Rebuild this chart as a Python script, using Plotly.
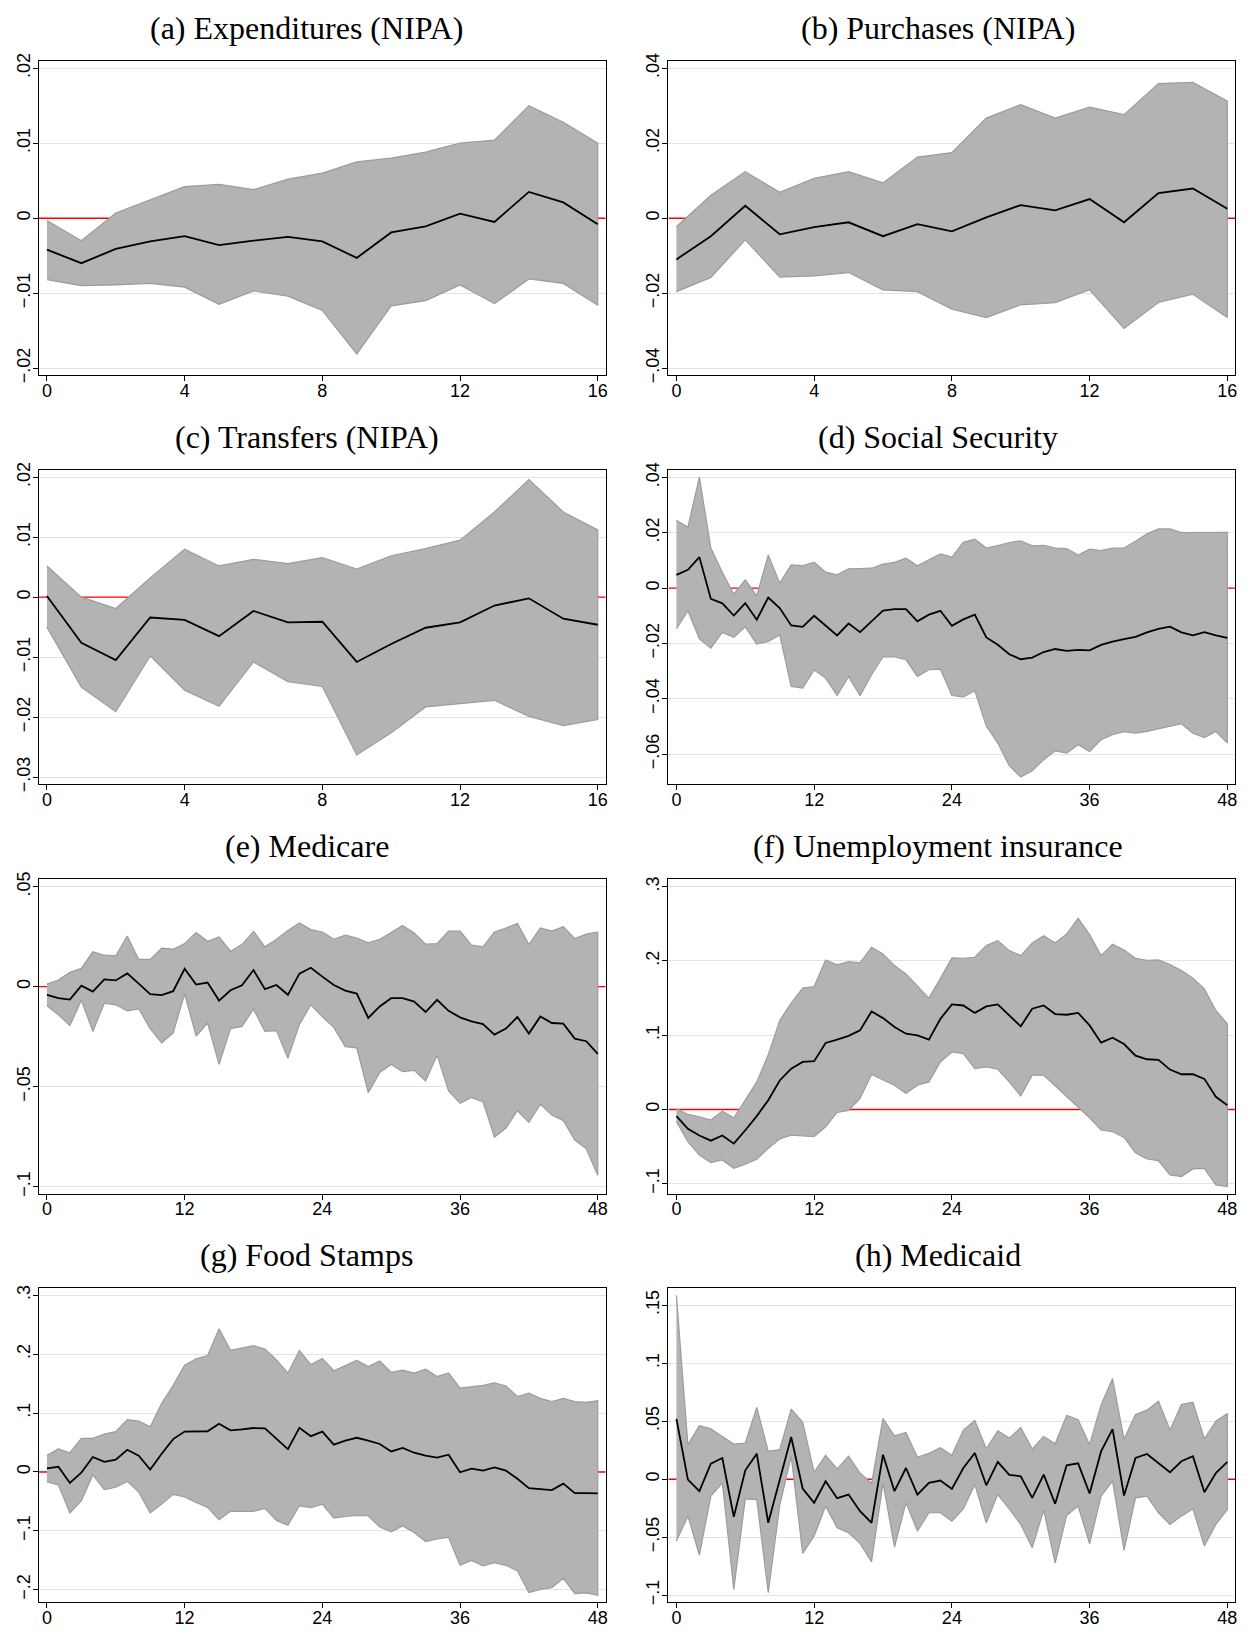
import plotly.graph_objects as go

# Horizons (quarters for NIPA aggregates, months for program series)
H16 = list(range(17))
H48 = list(range(49))

# (a) Expenditures (NIPA)
exp_irf = [-0.0042, -0.0060, -0.0041, -0.0031, -0.0024, -0.0036, -0.0030, -0.0025, -0.0031,
           -0.0053, -0.0019, -0.0011, 0.0006, -0.0005, 0.0035, 0.0021, -0.0008]
exp_hi = [-0.0003, -0.0030, 0.0007, 0.0025, 0.0042, 0.0045, 0.0038, 0.0052, 0.0060,
          0.0075, 0.0080, 0.0088, 0.0100, 0.0104, 0.0150, 0.0128, 0.0100]
exp_lo = [-0.0082, -0.0090, -0.0089, -0.0087, -0.0092, -0.0115, -0.0097, -0.0104, -0.0123,
          -0.0181, -0.0117, -0.0110, -0.0089, -0.0114, -0.0081, -0.0087, -0.0116]

# (b) Purchases (NIPA)
pur_irf = [-0.0110, -0.0048, 0.0033, -0.0043, -0.0024, -0.0011, -0.0048, -0.0016, -0.0035,
           0.0002, 0.0035, 0.0021, 0.0051, -0.0011, 0.0067, 0.0079, 0.0025]
pur_hi = [-0.0023, 0.0061, 0.0124, 0.0069, 0.0106, 0.0124, 0.0094, 0.0163, 0.0175,
          0.0267, 0.0303, 0.0267, 0.0296, 0.0276, 0.0359, 0.0362, 0.0312]
pur_lo = [-0.0196, -0.0158, -0.0058, -0.0157, -0.0154, -0.0145, -0.0191, -0.0196, -0.0243,
          -0.0265, -0.0231, -0.0225, -0.0191, -0.0294, -0.0225, -0.0203, -0.0265]

# (c) Transfers (NIPA)
tra_irf = [0.0002, -0.0076, -0.0105, -0.0034, -0.0038, -0.0065, -0.0023, -0.0042, -0.0041,
           -0.0108, -0.0078, -0.0051, -0.0042, -0.0014, -0.0002, -0.0036, -0.0046]
tra_hi = [0.0052, 0.0000, -0.0019, 0.0032, 0.0080, 0.0052, 0.0063, 0.0056, 0.0066,
          0.0047, 0.0069, 0.0081, 0.0095, 0.0142, 0.0196, 0.0142, 0.0112]
tra_lo = [-0.0050, -0.0150, -0.0191, -0.0098, -0.0155, -0.0182, -0.0108, -0.0141, -0.0149,
          -0.0263, -0.0226, -0.0183, -0.0178, -0.0172, -0.0199, -0.0214, -0.0204]

# (d) Social Security
ss_irf = [0.0048, 0.0066, 0.0112, -0.0039, -0.0055, -0.0099, -0.0054, -0.0114, -0.0034, -0.0072,
          -0.0135, -0.0140, -0.0100, -0.0136, -0.0171, -0.0128, -0.0159, -0.0120, -0.0081, -0.0076,
          -0.0076, -0.0120, -0.0096, -0.0082, -0.0136, -0.0113, -0.0096, -0.0178, -0.0205, -0.0239,
          -0.0257, -0.0251, -0.0231, -0.0220, -0.0227, -0.0223, -0.0225, -0.0205, -0.0193, -0.0184,
          -0.0176, -0.0160, -0.0147, -0.0139, -0.0160, -0.0171, -0.0159, -0.0171, -0.0180]
ss_hi = [0.0245, 0.0220, 0.0401, 0.0145, 0.0057, -0.0022, 0.0030, -0.0028, 0.0120, 0.0018,
         0.0084, 0.0081, 0.0094, 0.0058, 0.0048, 0.0070, 0.0071, 0.0072, 0.0087, 0.0093,
         0.0108, 0.0081, 0.0102, 0.0124, 0.0112, 0.0166, 0.0177, 0.0145, 0.0154, 0.0165,
         0.0171, 0.0153, 0.0155, 0.0145, 0.0143, 0.0120, 0.0141, 0.0136, 0.0145, 0.0145,
         0.0169, 0.0196, 0.0214, 0.0214, 0.0201, 0.0201, 0.0201, 0.0200, 0.0202]
ss_lo = [-0.0147, -0.0082, -0.0183, -0.0217, -0.0160, -0.0178, -0.0140, -0.0202, -0.0193, -0.0169,
         -0.0355, -0.0361, -0.0296, -0.0325, -0.0388, -0.0320, -0.0389, -0.0313, -0.0248, -0.0249,
         -0.0259, -0.0319, -0.0295, -0.0293, -0.0388, -0.0393, -0.0371, -0.0498, -0.0560, -0.0642,
         -0.0683, -0.0660, -0.0620, -0.0588, -0.0596, -0.0566, -0.0590, -0.0548, -0.0530, -0.0519,
         -0.0524, -0.0518, -0.0510, -0.0500, -0.0490, -0.0524, -0.0540, -0.0518, -0.0560]

# (e) Medicare
mcr_irf = [-0.0041, -0.0058, -0.0065, 0.0005, -0.0025, 0.0036, 0.0031, 0.0066, 0.0015, -0.0038,
           -0.0043, -0.0023, 0.0089, 0.0010, 0.0020, -0.0070, -0.0018, 0.0007, 0.0083, -0.0013,
           0.0008, -0.0041, 0.0065, 0.0094, 0.0050, 0.0008, -0.0020, -0.0035, -0.0157, -0.0099,
           -0.0058, -0.0058, -0.0075, -0.0127, -0.0066, -0.0121, -0.0154, -0.0174, -0.0187, -0.0240,
           -0.0210, -0.0152, -0.0235, -0.0149, -0.0182, -0.0185, -0.0260, -0.0273, -0.0336]
mcr_hi = [0.0013, 0.0033, 0.0071, 0.0091, 0.0174, 0.0157, 0.0154, 0.0253, 0.0136, 0.0136,
          0.0192, 0.0187, 0.0215, 0.0270, 0.0227, 0.0248, 0.0177, 0.0210, 0.0276, 0.0199,
          0.0237, 0.0281, 0.0318, 0.0285, 0.0273, 0.0237, 0.0258, 0.0243, 0.0219, 0.0237,
          0.0270, 0.0306, 0.0268, 0.0212, 0.0215, 0.0278, 0.0278, 0.0207, 0.0199, 0.0273,
          0.0293, 0.0315, 0.0210, 0.0293, 0.0278, 0.0300, 0.0240, 0.0263, 0.0273]
mcr_lo = [-0.0096, -0.0141, -0.0195, -0.0068, -0.0224, -0.0083, -0.0091, -0.0121, -0.0111, -0.0210,
          -0.0281, -0.0232, -0.0036, -0.0248, -0.0182, -0.0389, -0.0210, -0.0199, -0.0113, -0.0224,
          -0.0220, -0.0359, -0.0190, -0.0091, -0.0151, -0.0204, -0.0300, -0.0306, -0.0530, -0.0430,
          -0.0389, -0.0425, -0.0419, -0.0472, -0.0343, -0.0522, -0.0584, -0.0555, -0.0576, -0.0753,
          -0.0707, -0.0621, -0.0679, -0.0588, -0.0642, -0.0671, -0.0767, -0.0811, -0.0944]

# (f) Unemployment insurance
ui_irf = [-0.0090, -0.0260, -0.0350, -0.0420, -0.0350, -0.0460, -0.0280, -0.0090, 0.0125, 0.0390,
          0.0550, 0.0640, 0.0650, 0.0895, 0.0940, 0.0990, 0.1065, 0.1320, 0.1230, 0.1110,
          0.1020, 0.0998, 0.0940, 0.1220, 0.1414, 0.1400, 0.1300, 0.1387, 0.1414, 0.1266,
          0.1119, 0.1356, 0.1400, 0.1284, 0.1275, 0.1300, 0.1132, 0.0899, 0.0966, 0.0881,
          0.0725, 0.0676, 0.0667, 0.0537, 0.0474, 0.0474, 0.0412, 0.0170, 0.0058]
ui_hi = [0.0013, -0.0067, -0.0098, -0.0143, -0.0022, -0.0112, 0.0125, 0.0371, 0.0738, 0.1199,
         0.1432, 0.1633, 0.1655, 0.2013, 0.1946, 0.1991, 0.1973, 0.2183, 0.2094, 0.1937,
         0.1826, 0.1669, 0.1499, 0.1767, 0.2040, 0.2036, 0.2049, 0.2206, 0.2273, 0.2139,
         0.2072, 0.2242, 0.2340, 0.2242, 0.2362, 0.2573, 0.2353, 0.2072, 0.2224, 0.2148,
         0.2036, 0.2009, 0.2013, 0.1951, 0.1870, 0.1767, 0.1624, 0.1333, 0.1154]
ui_lo = [-0.0166, -0.0434, -0.0613, -0.0716, -0.0680, -0.0792, -0.0738, -0.0671, -0.0523, -0.0398,
         -0.0345, -0.0353, -0.0367, -0.0233, -0.0040, -0.0013, 0.0148, 0.0470, 0.0394, 0.0327,
         0.0215, 0.0327, 0.0371, 0.0640, 0.0774, 0.0752, 0.0550, 0.0573, 0.0541, 0.0371,
         0.0183, 0.0461, 0.0461, 0.0327, 0.0183, 0.0031, -0.0112, -0.0277, -0.0300, -0.0376,
         -0.0582, -0.0667, -0.0689, -0.0881, -0.0904, -0.0801, -0.0792, -0.1016, -0.1038]

# (g) Food Stamps
fs_irf = [0.0061, 0.0088, -0.0188, -0.0011, 0.0254, 0.0171, 0.0210, 0.0376, 0.0276, 0.0039,
          0.0309, 0.0558, 0.0685, 0.0691, 0.0691, 0.0818, 0.0707, 0.0724, 0.0746, 0.0740,
          0.0569, 0.0387, 0.0751, 0.0608, 0.0685, 0.0464, 0.0530, 0.0580, 0.0530, 0.0475,
          0.0348, 0.0409, 0.0326, 0.0276, 0.0243, 0.0293, -0.0006, 0.0055, 0.0022, 0.0077,
          0.0022, -0.0116, -0.0276, -0.0287, -0.0309, -0.0199, -0.0359, -0.0359, -0.0365]
fs_hi = [0.0282, 0.0392, 0.0326, 0.0569, 0.0569, 0.0641, 0.0685, 0.0890, 0.0862, 0.0768,
         0.1166, 0.1470, 0.1812, 0.1923, 0.1978, 0.2431, 0.2066, 0.2105, 0.2144, 0.2088,
         0.1901, 0.1680, 0.2061, 0.1823, 0.1928, 0.1718, 0.1812, 0.1895, 0.1790, 0.1884,
         0.1691, 0.1729, 0.1680, 0.1746, 0.1619, 0.1680, 0.1425, 0.1448, 0.1470, 0.1514,
         0.1459, 0.1282, 0.1337, 0.1249, 0.1193, 0.1249, 0.1193, 0.1182, 0.1210]
fs_lo = [-0.0171, -0.0221, -0.0696, -0.0492, -0.0050, -0.0298, -0.0260, -0.0160, -0.0343, -0.0696,
         -0.0547, -0.0381, -0.0425, -0.0519, -0.0602, -0.0812, -0.0669, -0.0669, -0.0669, -0.0619,
         -0.0823, -0.0906, -0.0575, -0.0608, -0.0547, -0.0785, -0.0757, -0.0740, -0.0746, -0.0934,
         -0.1017, -0.0917, -0.1028, -0.1182, -0.1138, -0.1110, -0.1586, -0.1503, -0.1597, -0.1541,
         -0.1586, -0.1680, -0.2050, -0.1994, -0.1967, -0.1807, -0.2066, -0.2055, -0.2094]

# (h) Medicaid
mcd_irf = [0.0521, -0.0003, -0.0103, 0.0135, 0.0183, -0.0324, 0.0077, 0.0220, -0.0375, -0.0003,
           0.0364, -0.0080, -0.0203, -0.0017, -0.0163, -0.0132, -0.0275, -0.0375, 0.0212, -0.0103,
           0.0097, -0.0132, -0.0031, -0.0011, -0.0083, 0.0097, 0.0226, -0.0052, 0.0149, 0.0037,
           0.0026, -0.0161, 0.0040, -0.0212, 0.0120, 0.0137, -0.0123, 0.0240, 0.0432, -0.0140,
           0.0183, 0.0218, 0.0140, 0.0060, 0.0155, 0.0198, -0.0112, 0.0054, 0.0149]
mcd_hi = [0.1586, 0.0298, 0.0461, 0.0435, 0.0369, 0.0303, 0.0312, 0.0619, 0.0241, 0.0255,
          0.0604, 0.0493, 0.0060, 0.0206, 0.0089, 0.0198, 0.0054, -0.0037, 0.0524, 0.0375,
          0.0404, 0.0189, 0.0224, 0.0272, 0.0206, 0.0424, 0.0507, 0.0263, 0.0418, 0.0355,
          0.0447, 0.0261, 0.0369, 0.0306, 0.0550, 0.0513, 0.0298, 0.0641, 0.0868, 0.0344,
          0.0558, 0.0596, 0.0673, 0.0424, 0.0644, 0.0664, 0.0349, 0.0501, 0.0567]
mcd_lo = [-0.0533, -0.0318, -0.0653, -0.0146, -0.0031, -0.0950, -0.0169, -0.0175, -0.0979, -0.0226,
          0.0198, -0.0639, -0.0490, -0.0232, -0.0418, -0.0461, -0.0553, -0.0713, -0.0031, -0.0584,
          -0.0203, -0.0447, -0.0289, -0.0289, -0.0361, -0.0255, -0.0046, -0.0375, -0.0132, -0.0255,
          -0.0390, -0.0590, -0.0266, -0.0724, -0.0312, -0.0232, -0.0556, -0.0146, -0.0017, -0.0613,
          -0.0160, -0.0146, -0.0289, -0.0390, -0.0318, -0.0255, -0.0576, -0.0390, -0.0261]

titles = ["(a) Expenditures (NIPA)", "(b) Purchases (NIPA)", "(c) Transfers (NIPA)",
          "(d) Social Security", "(e) Medicare", "(f) Unemployment insurance",
          "(g) Food Stamps", "(h) Medicaid"]

# y-axis tick values and their labels
yt_a = [-0.02, -0.01, 0, 0.01, 0.02]
yl_a = ["\u2212.02", "\u2212.01", "0", ".01", ".02"]
yt_b = [-0.04, -0.02, 0, 0.02, 0.04]
yl_b = ["\u2212.04", "\u2212.02", "0", ".02", ".04"]
yt_c = [-0.03, -0.02, -0.01, 0, 0.01, 0.02]
yl_c = ["\u2212.03", "\u2212.02", "\u2212.01", "0", ".01", ".02"]
yt_d = [-0.06, -0.04, -0.02, 0, 0.02, 0.04]
yl_d = ["\u2212.06", "\u2212.04", "\u2212.02", "0", ".02", ".04"]
yt_e = [-0.1, -0.05, 0, 0.05]
yl_e = ["\u2212.1", "\u2212.05", "0", ".05"]
yt_f = [-0.1, 0, 0.1, 0.2, 0.3]
yl_f = ["\u2212.1", "0", ".1", ".2", ".3"]
yt_g = [-0.2, -0.1, 0, 0.1, 0.2, 0.3]
yl_g = ["\u2212.2", "\u2212.1", "0", ".1", ".2", ".3"]
yt_h = [-0.1, -0.05, 0, 0.05, 0.1, 0.15]
yl_h = ["\u2212.1", "\u2212.05", "0", ".05", ".1", ".15"]

# x-axis ticks
xt_q = [0, 4, 8, 12, 16]
xt_m = [0, 12, 24, 36, 48]

panels = [
    (H16, exp_irf, exp_lo, exp_hi, yt_a, yl_a, xt_q),
    (H16, pur_irf, pur_lo, pur_hi, yt_b, yl_b, xt_q),
    (H16, tra_irf, tra_lo, tra_hi, yt_c, yl_c, xt_q),
    (H48, ss_irf, ss_lo, ss_hi, yt_d, yl_d, xt_m),
    (H48, mcr_irf, mcr_lo, mcr_hi, yt_e, yl_e, xt_m),
    (H48, ui_irf, ui_lo, ui_hi, yt_f, yl_f, xt_m),
    (H48, fs_irf, fs_lo, fs_hi, yt_g, yl_g, xt_m),
    (H48, mcd_irf, mcd_lo, mcd_hi, yt_h, yl_h, xt_m),
]

W, Hpx = 1252, 1637
col_x = [(39.0, 606.7), (669.5, 1237.3)]
row_top = [53.5, 466.5, 880.0, 1292.7]
box_h = 317.5
title_cx = [307.0, 939.0]

BAND = "#b3b3b3"
BAND_EDGE = "#9c9c9c"
GRID = "#e3e3e3"
TICKFONT = dict(family="Liberation Sans, Arial, Helvetica, sans-serif", size=18, color="#000000")
TITLEFONT = dict(family="Liberation Serif, Times New Roman, serif", size=32, color="#000000")

fig = go.Figure()
layout = dict(
    width=W, height=Hpx, margin=dict(l=0, r=0, t=0, b=0),
    paper_bgcolor="white", plot_bgcolor="white", showlegend=False,
)
annotations = []

for i, (h, irf, lo, hi, yt, yl, xt) in enumerate(panels):
    k = i + 1
    r, c = divmod(i, 2)
    xa, ya = ("x" if k == 1 else f"x{k}"), ("y" if k == 1 else f"y{k}")
    x0, x1 = col_x[c]
    top = row_top[r]
    bot = top + box_h

    # axis extents follow Stata: ticks or data, whichever is wider, plus a small pad
    ymin = min(min(lo), min(yt))
    ymax = max(max(hi), max(yt))
    ypad = (ymax - ymin) * 0.0241
    xmin, xmax = min(h), max(h)
    xpad = (xmax - xmin) * 0.0145
    xr = [xmin - xpad, xmax + xpad]

    # zero reference line across the whole plot region, beneath the band
    fig.add_trace(go.Scatter(
        x=xr, y=[0, 0], xaxis=xa, yaxis=ya, mode="lines",
        line=dict(color="#ff0000", width=1.4), hoverinfo="skip",
    ))
    # confidence band
    fig.add_trace(go.Scatter(
        x=h + h[::-1], y=hi + lo[::-1], xaxis=xa, yaxis=ya,
        mode="lines", fill="toself", fillcolor=BAND,
        line=dict(color=BAND_EDGE, width=1.2), hoverinfo="skip",
    ))
    # point estimate
    fig.add_trace(go.Scatter(
        x=h, y=irf, xaxis=xa, yaxis=ya, mode="lines",
        line=dict(color="#000000", width=1.8),
    ))

    layout[f"xaxis{k}"] = dict(
        domain=[x0 / W, x1 / W], anchor=ya, range=xr,
        tickmode="array", tickvals=xt, ticktext=[str(v) for v in xt],
        ticks="outside", ticklen=5, tickwidth=1, tickcolor="#000000",
        ticklabelstandoff=-6,
        showline=True, linecolor="#000000", linewidth=1, mirror=True,
        showgrid=False, zeroline=False, tickfont=TICKFONT,
    )
    layout[f"yaxis{k}"] = dict(
        domain=[1 - bot / Hpx, 1 - top / Hpx], anchor=xa, range=[ymin - ypad, ymax + ypad],
        tickmode="array", tickvals=yt, ticktext=yl, tickangle=-90,
        ticks="outside", ticklen=5, tickwidth=1, tickcolor="#000000",
        ticklabelstandoff=-4,
        showline=True, linecolor="#000000", linewidth=1, mirror=True,
        showgrid=True, gridcolor=GRID, gridwidth=1.3, zeroline=False, tickfont=TICKFONT,
    )

    annotations.append(dict(
        text=titles[i], xref="paper", yref="paper",
        x=title_cx[c] / W, y=1 - (top - 33.5) / Hpx,
        xanchor="center", yanchor="middle", showarrow=False, font=TITLEFONT,
    ))

layout["annotations"] = annotations
fig.update_layout(**layout)
fig.write_html("out.html")
